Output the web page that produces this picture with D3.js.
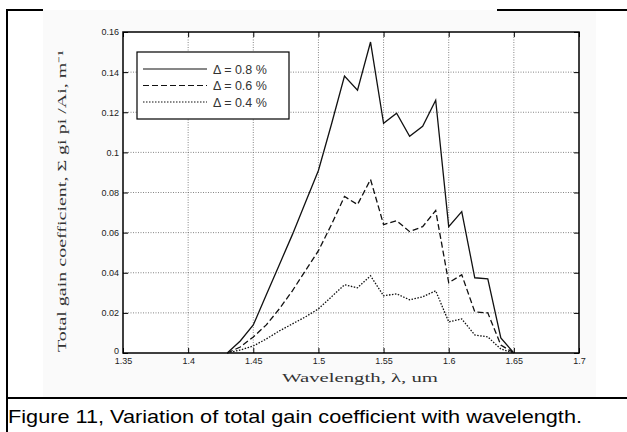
<!DOCTYPE html>
<html><head><meta charset="utf-8">
<script src="https://cdn.jsdelivr.net/npm/d3@7"></script>
<style>
html,body{margin:0;padding:0;background:#fff;}
svg{display:block;}
</style></head>
<body>
<svg id="c" width="627" height="432"></svg>
<script>
const wavelengths = [1.43,1.44,1.45,1.46,1.47,1.48,1.49,1.50,1.51,1.52,1.53,1.54,1.55,1.56,1.57,1.58,1.59,1.60,1.61,1.62,1.63,1.64,1.65];
const gain08 = [0,0.006,0.014,0.029,0.044,0.059,0.075,0.091,0.114,0.138,0.131,0.155,0.1145,0.1195,0.108,0.113,0.126,0.063,0.0705,0.0375,0.037,0.0075,0];
const gain06 = [0,0.003,0.008,0.014,0.022,0.031,0.041,0.051,0.064,0.078,0.074,0.0865,0.064,0.066,0.0605,0.063,0.071,0.035,0.039,0.0205,0.020,0.004,0];
const gain04 = [0,0.0015,0.0035,0.007,0.011,0.0145,0.018,0.022,0.028,0.034,0.0325,0.0385,0.0285,0.0295,0.0265,0.028,0.031,0.0155,0.017,0.009,0.008,0.002,0];
const seriesNames = ["\u0394 = 0.8 %","\u0394 = 0.6 %","\u0394 = 0.4 %"];
const xTicks = [1.35,1.4,1.45,1.5,1.55,1.6,1.65,1.7];
const xTickLabels = ["1.35","1.4","1.45","1.5","1.55","1.6","1.65","1.7"];
const yTicks = [0,0.02,0.04,0.06,0.08,0.1,0.12,0.14,0.16];
const yTickLabels = ["0","0.02","0.04","0.06","0.08","0.1","0.12","0.14","0.16"];

const svg = d3.select("#c");
// figure frame
svg.append("rect").attr("x",43).attr("y",10).attr("width",553).attr("height",387).attr("fill","#fafafa");
svg.append("line").attr("x1",7).attr("x2",43).attr("y1",10).attr("y2",10).attr("stroke","#000").attr("stroke-width",2);
svg.append("line").attr("x1",497).attr("x2",627).attr("y1",10).attr("y2",10).attr("stroke","#000").attr("stroke-width",2);
svg.append("line").attr("x1",7).attr("x2",7).attr("y1",9).attr("y2",432).attr("stroke","#000").attr("stroke-width",2);
svg.append("line").attr("x1",6).attr("x2",627).attr("y1",398).attr("y2",398).attr("stroke","#000").attr("stroke-width",2);

const L=123,R=579,T=32,B=353;
const x = d3.scaleLinear().domain([1.35,1.7]).range([L,R]);
const y = d3.scaleLinear().domain([0,0.16]).range([B,T]);

svg.append("rect").attr("x",L).attr("y",T).attr("width",R-L).attr("height",B-T).attr("fill","#fff");

// grid
const g = svg.append("g");
g.selectAll(".gx").data(xTicks.slice(1,-1)).enter().append("line")
  .attr("x1",d=>x(d)).attr("x2",d=>x(d)).attr("y1",T).attr("y2",B)
  .attr("stroke","#666").attr("stroke-width",0.8).attr("stroke-dasharray","1,1.5");
g.selectAll(".gy").data(yTicks.slice(1,-1)).enter().append("line")
  .attr("x1",L).attr("x2",R).attr("y1",d=>y(d)).attr("y2",d=>y(d))
  .attr("stroke","#666").attr("stroke-width",0.8).attr("stroke-dasharray","1,1.5");

// axes
const fmtX = d=>xTickLabels[xTicks.indexOf(d)];
const fmtY = d=>yTickLabels[yTicks.indexOf(d)];
const ax = svg.append("g").attr("transform",`translate(0,${B})`)
  .call(d3.axisBottom(x).tickValues(xTicks).tickFormat(fmtX).tickSizeInner(-5).tickSizeOuter(0).tickPadding(5));
const axT = svg.append("g").attr("transform",`translate(0,${T})`)
  .call(d3.axisTop(x).tickValues(xTicks).tickFormat("").tickSizeInner(-5).tickSizeOuter(0));
const ay = svg.append("g").attr("transform",`translate(${L},0)`)
  .call(d3.axisLeft(y).tickValues(yTicks).tickFormat(fmtY).tickSizeInner(-5).tickSizeOuter(0).tickPadding(4));
const ayR = svg.append("g").attr("transform",`translate(${R},0)`)
  .call(d3.axisRight(y).tickValues(yTicks).tickFormat("").tickSizeInner(-5).tickSizeOuter(0));
[ax,axT,ay,ayR].forEach(a=>{
  a.select(".domain").remove();
  a.selectAll(".tick line").attr("stroke","#000").attr("stroke-width",1);
  a.selectAll("text").attr("font-family","Liberation Sans, Arial, sans-serif").attr("font-size",9).attr("fill","#222");
});
ay.selectAll(".tick text").filter(d=>d===0).attr("dy","0.1em");
svg.append("rect").attr("x",L).attr("y",T).attr("width",R-L).attr("height",B-T)
  .attr("fill","none").attr("stroke","#000").attr("stroke-width",1.5);

// lines
const series = [
  {vals:gain08, dash:null, w:1.3},
  {vals:gain06, dash:"6,3", w:1.3},
  {vals:gain04, dash:"1.5,1.5", w:1.3}
];
const line = d3.line().x((d,i)=>x(wavelengths[i])).y(d=>y(d));
series.forEach(s=>{
  svg.append("path").datum(s.vals).attr("d",line).attr("fill","none")
    .attr("stroke","#111").attr("stroke-width",s.w)
    .attr("stroke-dasharray",s.dash);
});

// legend
const lg = svg.append("g");
lg.append("rect").attr("x",137).attr("y",52).attr("width",152).attr("height",67)
  .attr("fill","#fff").attr("stroke","#000").attr("stroke-width",1.2);
const ly = [69,85.5,102];
series.forEach((s,i)=>{
  lg.append("line").attr("x1",143).attr("x2",207).attr("y1",ly[i]).attr("y2",ly[i])
    .attr("stroke","#111").attr("stroke-width",1.2).attr("stroke-dasharray",s.dash);
  lg.append("text").attr("x",213).attr("y",ly[i]+4.5).text(seriesNames[i])
    .attr("font-family","Liberation Sans, Arial, sans-serif").attr("font-size",12.5).attr("fill","#333");
});

// axis titles
svg.append("text").attr("x",282).attr("y",382)
  .attr("font-family","Liberation Serif, Times New Roman, serif").attr("font-size",12).attr("fill","#333")
  .attr("textLength",156).attr("lengthAdjust","spacingAndGlyphs")
  .text("Wavelength, \u03bb, um");
svg.append("text").attr("transform","translate(66,352) rotate(-90)")
  .attr("font-family","Liberation Serif, Times New Roman, serif").attr("font-size",12).attr("fill","#333")
  .attr("textLength",302).attr("lengthAdjust","spacingAndGlyphs")
  .text("Total gain coefficient, \u03a3 gi pi /Ai, m\u207b\u00b9");

// caption
svg.append("text").attr("x",8).attr("y",423)
  .attr("font-family","Liberation Sans, Arial, sans-serif").attr("font-size",19).attr("fill","#000")
  .attr("textLength",574).attr("lengthAdjust","spacingAndGlyphs")
  .text("Figure 11, Variation of total gain coefficient with wavelength.");
</script>
</body></html>
